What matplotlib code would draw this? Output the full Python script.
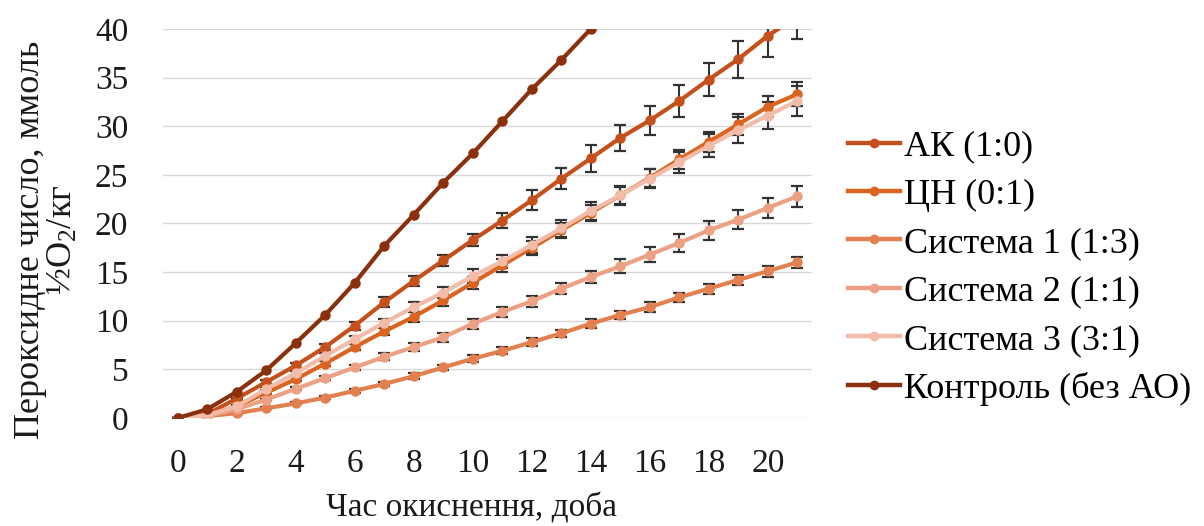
import matplotlib
matplotlib.use("Agg")
import matplotlib.pyplot as plt
from matplotlib.lines import Line2D

plt.rcParams['font.family'] = ['Liberation Serif', 'DejaVu Serif']
plt.rcParams['mathtext.fontset'] = 'custom'
plt.rcParams['mathtext.rm'] = 'Liberation Serif'
plt.rcParams['mathtext.it'] = 'Liberation Serif:italic'

days = list(range(22))
control_days = list(range(15))

ak = [0, 0.4, 2.0, 3.7, 5.4, 7.3, 9.5, 11.9, 14.1, 16.2, 18.3, 20.3, 22.4, 24.6,
      26.7, 28.8, 30.6, 32.6, 34.8, 36.9, 39.3, 41.3]
ak_err = [0, 0.05, 0.1, 0.2, 0.3, 0.3, 0.4, 0.5, 0.5, 0.6, 0.6, 0.8, 1.0, 1.1,
          1.4, 1.35, 1.45, 1.65, 1.7, 1.9, 2.2, 2.3]

cn = [0, 0.3, 1.2, 2.6, 4.0, 5.6, 7.3, 8.9, 10.4, 12.1, 13.9, 15.7, 17.5, 19.3,
      21.1, 22.9, 24.7, 26.6, 28.4, 30.2, 32.0, 33.3]
cn_err = [0, 0.05, 0.1, 0.15, 0.2, 0.3, 0.35, 0.4, 0.5, 0.6, 0.6, 0.7, 0.7, 0.8,
          0.8, 0.9, 0.9, 1.0, 1.0, 1.1, 1.1, 1.2]

sys1 = [0, 0.2, 0.5, 1.0, 1.5, 2.1, 2.8, 3.5, 4.3, 5.2, 6.1, 6.9, 7.8, 8.7,
        9.7, 10.6, 11.4, 12.4, 13.3, 14.2, 15.1, 16.0]
sys1_err = [0, 0.05, 0.05, 0.1, 0.1, 0.15, 0.2, 0.25, 0.3, 0.3, 0.35, 0.35, 0.4, 0.4,
            0.45, 0.45, 0.5, 0.5, 0.5, 0.55, 0.55, 0.6]

sys2 = [0, 0.2, 0.9, 1.9, 3.0, 4.1, 5.2, 6.3, 7.3, 8.3, 9.7, 10.9, 12.0, 13.3,
        14.5, 15.6, 16.8, 18.0, 19.3, 20.4, 21.6, 22.8]
sys2_err = [0, 0.05, 0.1, 0.1, 0.15, 0.2, 0.3, 0.35, 0.4, 0.45, 0.5, 0.5, 0.55, 0.6,
            0.65, 0.7, 0.75, 0.9, 0.95, 1.0, 1.0, 1.1]

sys3 = [0, 0.3, 1.2, 3.0, 4.6, 6.4, 8.1, 9.8, 11.4, 12.9, 14.6, 16.1, 17.8, 19.5,
        21.3, 22.9, 24.6, 26.3, 28.0, 29.6, 31.1, 32.6]
sys3_err = [0, 0.05, 0.1, 0.15, 0.2, 0.3, 0.35, 0.4, 0.5, 0.6, 0.7, 0.7, 0.8, 0.9,
            0.9, 1.0, 1.0, 1.1, 1.2, 1.3, 1.4, 1.5]

control = [0, 0.9, 2.7, 4.9, 7.7, 10.6, 13.9, 17.7, 20.9, 24.2, 27.2, 30.5, 33.8,
           36.8, 40.0]

labels = ["АК (1:0)", "ЦН (0:1)", "Система 1 (1:3)", "Система 2 (1:1)",
          "Система 3 (3:1)", "Контроль (без АО)"]
colors = ["#C4501C", "#DA6420", "#E2804F", "#ECA084", "#F2BCA8", "#8A300C"]

x_ticks = list(range(0, 21, 2))
y_ticks = list(range(0, 41, 5))

FS = 24

fig = plt.figure(figsize=(12.04, 5.26), dpi=100)
ax = fig.add_axes([163 / 1204, 1 - 418 / 526, 649 / 1204, 389 / 526])

series = [(ak, ak_err), (cn, cn_err), (sys1, sys1_err), (sys2, sys2_err),
          (sys3, sys3_err)]
for (vals, errs), col in zip(series, colors[:5]):
    ax.errorbar(days, vals, yerr=errs, fmt='none', ecolor='#333333',
                elinewidth=1.5, capsize=4.5, capthick=1.6, zorder=2)
    ax.plot(days, vals, color=col, lw=3.0, marker='o', ms=6.5,
            markerfacecolor=col, markeredgecolor=col, zorder=3)

ax.plot(control_days, control, color=colors[5], lw=3.0, marker='o', ms=6.5,
        markerfacecolor=colors[5], markeredgecolor=colors[5], zorder=3)

ax.set_xlim(-0.5, 21.5)
ax.set_ylim(0, 40)
ax.set_xticks(x_ticks)
ax.set_yticks(y_ticks)
ax.grid(axis='y', color='#D9D9D9', lw=1.0, zorder=0)
ax.set_axisbelow(True)
for s in ax.spines.values():
    s.set_visible(False)
ax.tick_params(axis='both', length=0, labelsize=FS, colors='#1A1A1A')
ax.tick_params(axis='y', pad=25)
ax.tick_params(axis='x', pad=22)

fig.text(472 / 1204, 1 - 508 / 526, "Час окиснення, доба", ha='center',
         va='center', fontsize=FS, color='#1A1A1A')
fig.text(47 / 1204, 1 - 240 / 526, "Пероксидне число, ммоль\n½O$_2$/кг",
         ha='center', va='center', rotation=90, fontsize=FS + 2, color='#1A1A1A',
         linespacing=1.0, multialignment='center')

handles = [Line2D([0], [0], color=c, lw=3.2, marker='o', ms=6,
                  markerfacecolor=c, markeredgecolor=c) for c in colors]
fig.legend(handles, labels, loc='center left',
           bbox_to_anchor=(848 / 1204, 1 - 268 / 526), frameon=False,
           fontsize=26, handlelength=1.45, handletextpad=0.1,
           labelspacing=0.42, borderaxespad=0, borderpad=0)

fig.savefig("out.png", dpi=100)
